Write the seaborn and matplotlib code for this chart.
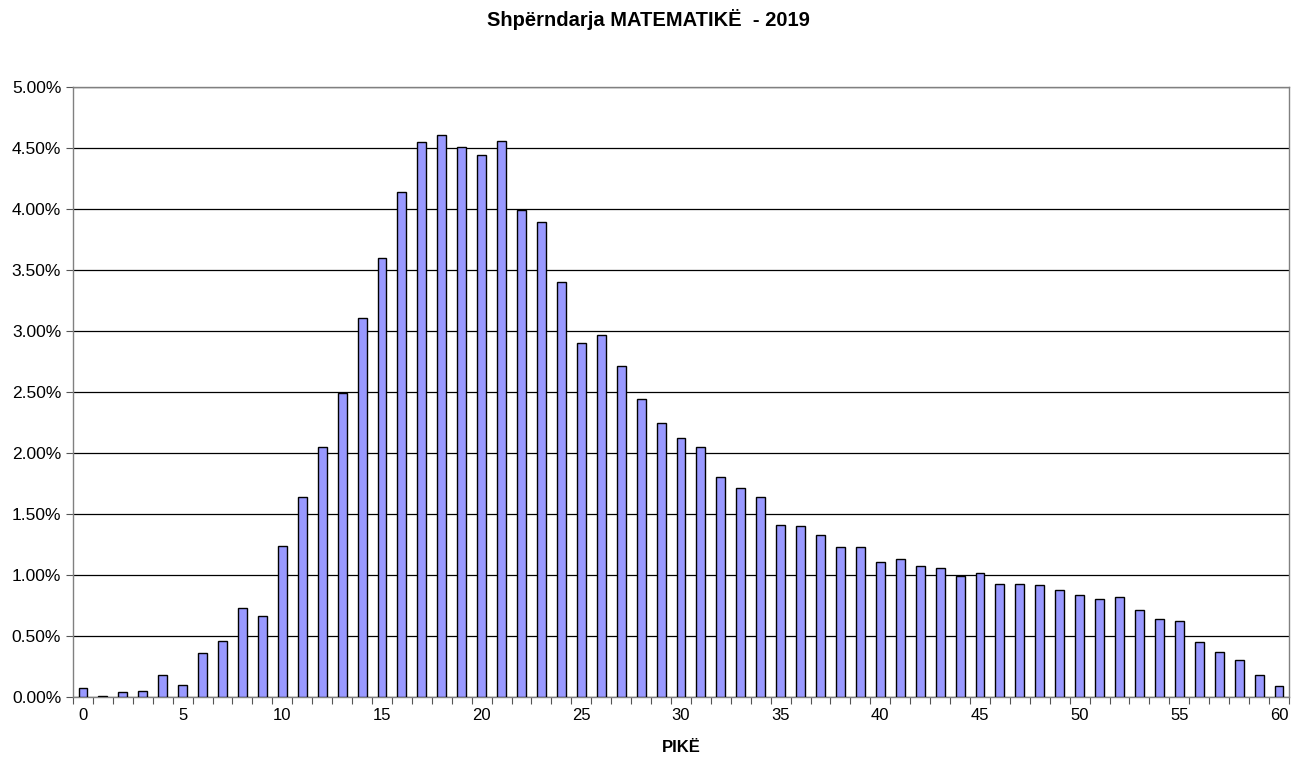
import numpy as np
import pandas as pd
import seaborn as sns
import matplotlib.pyplot as plt
from matplotlib.ticker import FixedLocator, FuncFormatter

# Points (0..60) and share of students in %
points = list(range(61))
share = [0.07, 0.01, 0.04, 0.05, 0.18, 0.10, 0.36, 0.46, 0.73, 0.66,
         1.24, 1.64, 2.05, 2.49, 3.11, 3.60, 4.14, 4.55, 4.61, 4.51,
         4.44, 4.56, 3.99, 3.89, 3.40, 2.90, 2.97, 2.71, 2.44, 2.25,
         2.12, 2.05, 1.80, 1.71, 1.64, 1.41, 1.40, 1.33, 1.23, 1.23,
         1.11, 1.13, 1.07, 1.06, 0.99, 1.02, 0.93, 0.93, 0.92, 0.88,
         0.84, 0.80, 0.82, 0.71, 0.64, 0.62, 0.45, 0.37, 0.30, 0.18,
         0.09]
x_labels = [str(p) for p in range(0, 61, 5)]

df = pd.DataFrame({'pike': points, 'share': share})

sns.set_style('white')
plt.rcParams['font.family'] = ['Liberation Sans', 'DejaVu Sans']
plt.rcParams['text.color'] = 'black'
plt.rcParams['xtick.labelcolor'] = 'black'
plt.rcParams['ytick.labelcolor'] = 'black'
plt.rcParams['axes.labelcolor'] = 'black'

fig = plt.figure(figsize=(12.97, 7.62), dpi=100)
ax = fig.add_axes([0.0563, 0.0853, 0.9375, 0.8005])

sns.barplot(data=df, x='pike', y='share', color='#9999FF', saturation=1,
            width=0.45, edgecolor='black', linewidth=1.0, ax=ax, zorder=3)

ax.set_xlim(-0.5, 60.5)
ax.set_ylim(0, 5)
ax.set_yticks(np.arange(0, 5.01, 0.5))
ax.yaxis.set_major_formatter(FuncFormatter(lambda v, _: f'{v:.2f}%'))
ax.yaxis.grid(True, color='black', linewidth=0.9, zorder=0)
ax.set_axisbelow(True)

ax.xaxis.set_major_locator(FixedLocator(list(range(0, 61, 5))))
ax.set_xticklabels(x_labels)
ax.xaxis.set_minor_locator(FixedLocator(list(np.arange(-0.5, 61, 1))))
ax.tick_params(axis='x', which='major', length=0, pad=8, labelsize=12)
ax.tick_params(axis='x', which='minor', length=5, width=0.8, color='#555555', direction='out', bottom=True)
ax.tick_params(axis='y', which='major', length=5, width=0.8, color='#555555', direction='out', left=True, labelsize=12.5)

for s in ax.spines.values():
    s.set_color('#808080')
    s.set_linewidth(1.0)

ax.set_xlabel('PIKË', fontsize=12, fontweight='bold', labelpad=12)
ax.set_ylabel('')
fig.suptitle('Shpërndarja MATEMATIKË  - 2019', fontsize=14.5, fontweight='bold', y=0.988)

fig.savefig('out.png', dpi=100)
